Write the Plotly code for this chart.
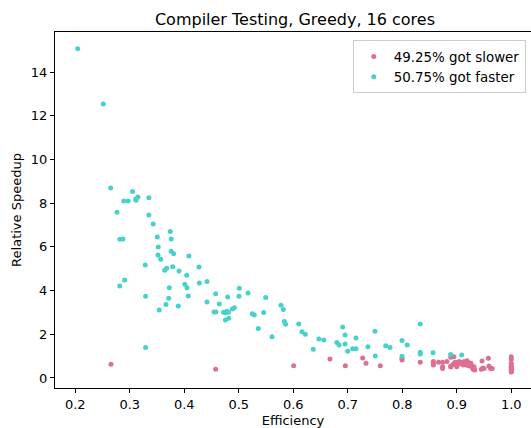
import plotly.graph_objects as go

# Faster (speedup > 1 mostly)
faster_x = [0.2044, 0.2514, 0.265, 0.305, 0.289, 0.297, 0.311, 0.3115, 0.315, 0.335,
            0.2765, 0.335, 0.343, 0.2818, 0.2875, 0.3505, 0.3743, 0.376, 0.3523, 0.376,
            0.3806, 0.3518, 0.3567, 0.4086, 0.3284, 0.3787, 0.364, 0.3677, 0.3903, 0.427,
            0.2906, 0.2815, 0.4044, 0.4417, 0.4276, 0.401, 0.405, 0.3725, 0.501, 0.329,
            0.4074, 0.3714, 0.4576, 0.4797, 0.5004, 0.517, 0.5494, 0.3664, 0.389, 0.354,
            0.4417, 0.4643, 0.4545, 0.458, 0.472, 0.476, 0.478, 0.481, 0.4755, 0.4815,
            0.488, 0.492, 0.5248, 0.5285, 0.5457, 0.5358, 0.5774, 0.5817, 0.5836, 0.586,
            0.561, 0.329, 0.610, 0.616, 0.622, 0.647, 0.656, 0.6367, 0.6906, 0.695,
            0.680, 0.684, 0.695, 0.715, 0.700, 0.709, 0.715, 0.737, 0.750, 0.7505,
            0.7696, 0.7775, 0.7995, 0.809, 0.7995, 0.833, 0.833, 0.833, 0.8564, 0.8888,
            0.909]
faster_y = [15.07, 12.54, 8.70, 8.53, 8.10, 8.10, 8.19, 8.14, 8.28, 8.25,
            7.58, 7.46, 7.05, 6.35, 6.36, 6.45, 6.71, 6.36, 6.00, 5.80,
            5.69, 5.63, 5.43, 5.58, 5.17, 5.09, 4.93, 5.02, 4.90, 5.08,
            4.49, 4.21, 4.70, 4.42, 4.35, 4.29, 4.13, 4.13, 4.11, 3.74,
            3.75, 3.65, 3.86, 3.71, 3.74, 3.89, 3.68, 3.36, 3.30, 3.11,
            3.48, 3.39, 3.02, 3.02, 3.01, 2.99, 3.05, 3.01, 2.65, 2.73,
            3.16, 3.22, 2.94, 2.88, 3.00, 2.27, 3.33, 3.13, 2.58, 2.46,
            1.89, 1.39, 2.47, 2.12, 2.00, 1.78, 1.74, 1.31, 2.33, 1.97,
            1.63, 1.51, 1.56, 1.83, 1.22, 1.34, 1.34, 1.43, 2.14, 1.01,
            1.48, 1.39, 1.72, 1.51, 0.99, 2.47, 1.18, 1.10, 1.16, 1.07,
            1.05]

slower_x = [0.2655, 0.4576, 0.6007, 0.6673, 0.6955, 0.7274, 0.7334, 0.7597, 0.7995, 0.7995,
            0.833, 0.857, 0.857, 0.857, 0.8666, 0.874, 0.874, 0.874, 0.882, 0.889,
            0.8945, 0.889, 0.8887, 0.893, 0.8945, 0.897, 0.900, 0.900, 0.903, 0.9045,
            0.907, 0.910, 0.912, 0.914, 0.9156, 0.918, 0.919, 0.922, 0.922, 0.924,
            0.926, 0.927, 0.930, 0.930, 0.9316, 0.933, 0.9325, 0.9463, 0.948, 0.95,
            0.945, 0.958, 0.959, 0.962, 0.965, 1.0, 1.0, 1.0, 1.0, 1.0,
            1.0, 1.0, 1.0, 1.0, 1.0]
slower_y = [0.63, 0.40, 0.56, 0.87, 0.56, 0.92, 0.67, 0.56, 0.90, 0.82,
            0.72, 0.76, 0.65, 0.59, 0.72, 0.72, 0.52, 0.43, 0.76, 0.95,
            0.97, 0.50, 0.54, 0.61, 0.65, 0.72, 0.70, 0.52, 0.63, 0.75,
            0.67, 0.72, 0.59, 0.75, 0.67, 0.59, 0.79, 0.70, 0.56, 0.59,
            0.67, 0.52, 0.40, 0.52, 0.52, 0.37, 0.40, 0.78, 0.46, 0.43,
            0.40, 0.90, 0.55, 0.43, 0.43, 0.97, 0.86, 0.67, 0.56, 0.49,
            0.37, 0.29, 0.46, 0.35, 0.27]

slower_label = "49.25% got slower"
faster_label = "50.75% got faster"
x_ticks = [0.2, 0.3, 0.4, 0.5, 0.6, 0.7, 0.8, 0.9, 1.0]
y_ticks = [0, 2, 4, 6, 8, 10, 12, 14]

FONT = "DejaVu Sans"

fig = go.Figure()
fig.add_trace(go.Scatter(x=slower_x, y=slower_y, mode="markers", name=slower_label,
                         marker=dict(color="#DB7093", size=5, line=dict(width=0))))
fig.add_trace(go.Scatter(x=faster_x, y=faster_y, mode="markers", name=faster_label,
                         marker=dict(color="#48D1CC", size=5, line=dict(width=0))))

fig.update_layout(
    width=531, height=428,
    margin=dict(l=55, r=0, t=32, b=40),
    paper_bgcolor="white", plot_bgcolor="white",
    font=dict(family=FONT, size=13, color="black"),
    title=dict(text="Compiler Testing, Greedy, 16 cores", x=0.5555, xanchor="center",
               y=1 - 19 / 428, yanchor="middle", font=dict(size=16, family=FONT)),
    showlegend=True,
    legend=dict(x=0.989, xanchor="right", y=0.977, yanchor="top",
                bgcolor="white", bordercolor="#cccccc", borderwidth=1,
                font=dict(size=13.4, family=FONT), tracegroupgap=0, itemsizing="trace"),
)
fig.update_xaxes(range=[0.1628, 1.0362], tickvals=x_ticks,
                 ticktext=[f"{v:.1f}" for v in x_ticks],
                 showgrid=False, zeroline=False, showline=True, linecolor="black",
                 linewidth=1, mirror=True, ticks="outside", ticklen=4, tickcolor="black",
                 tickfont=dict(size=13), title=dict(text="Efficiency", standoff=5, font=dict(size=13)))
fig.update_yaxes(range=[-0.458, 15.835], tickvals=y_ticks,
                 showgrid=False, zeroline=False, showline=True, linecolor="black",
                 linewidth=1, mirror=False, ticks="outside", ticklen=4, tickcolor="black",
                 tickfont=dict(size=13), title=dict(text="Relative Speedup", standoff=6, font=dict(size=13)))

fig.write_html("out.html")
